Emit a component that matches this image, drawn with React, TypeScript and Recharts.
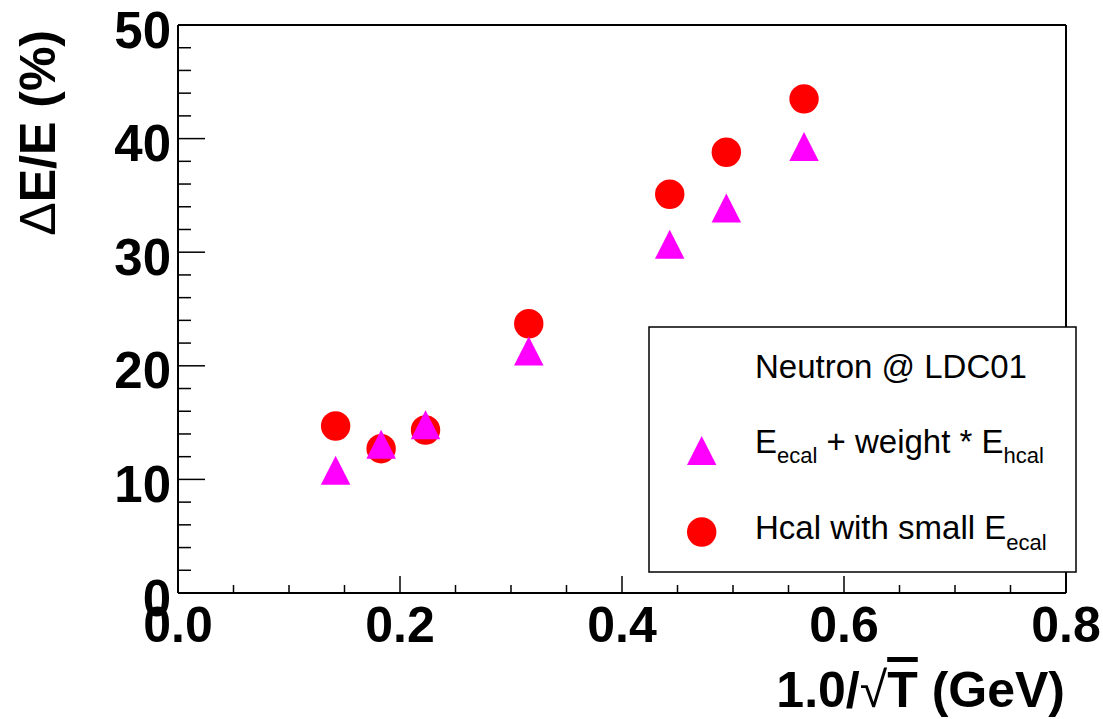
import React from 'react';
import { ScatterChart, Scatter, XAxis, YAxis, ReferenceLine, Legend } from 'recharts';

// 1/sqrt(E) values (x) and energy resolution in % (y)
const invSqrtE = [0.142, 0.183, 0.223, 0.316, 0.443, 0.494, 0.564];
const hcalSmallEcal = [14.7, 12.7, 14.35, 23.7, 35.1, 38.8, 43.5];
const ecalWeightHcal = [10.8, 13.1, 14.8, 21.3, 30.7, 33.9, 39.3];

const xTicks = [0, 0.05, 0.1, 0.15, 0.2, 0.25, 0.3, 0.35, 0.4, 0.45, 0.5, 0.55, 0.6, 0.65, 0.7, 0.75, 0.8];
const yTicks = [0, 2, 4, 6, 8, 10, 12, 14, 16, 18, 20, 22, 24, 26, 28, 30, 32, 34, 36, 38, 40, 42, 44, 46, 48, 50];

const legendTitle = 'Neutron @ LDC01';

const FONT = '"Liberation Sans", Arial, Helvetica, sans-serif';
const RED = '#ff0000';
const MAGENTA = '#ff00ff';

const circleData = invSqrtE.map((x, i) => ({ x, y: hcalSmallEcal[i] }));
const triangleData = invSqrtE.map((x, i) => ({ x, y: ecalWeightHcal[i] }));

const YTick = (props: any) => {
  const { x, y, payload } = props;
  const v = payload.value;
  const major = v % 10 === 0;
  return (
    <g>
      <line x1={x} y1={y} x2={x + (major ? 27 : 13)} y2={y} stroke="#000" strokeWidth={1.5} />
      {major && (
        <text x={x - 7} y={y + 22.5} textAnchor="end" fontFamily={FONT} fontWeight="bold" fontSize={51} fill="#000">
          {v}
        </text>
      )}
    </g>
  );
};

const XTick = (props: any) => {
  const { x, y, payload } = props;
  const v = payload.value;
  const major = Math.abs(v * 5 - Math.round(v * 5)) < 1e-6;
  return (
    <g>
      <line x1={x} y1={y} x2={x} y2={y - (major ? 17 : 8)} stroke="#000" strokeWidth={1.5} />
      {major && (
        <text x={x} y={y + 49} textAnchor="middle" fontFamily={FONT} fontWeight="bold" fontSize={50} fill="#000">
          {v.toFixed(1)}
        </text>
      )}
    </g>
  );
};

const XLabel = (props: any) => {
  const vb = props.viewBox || { x: 178, y: 593, width: 888, height: 126 };
  const tx = vb.x + vb.width - 1;
  const ty = vb.y + 114;
  return (
    <text x={tx} y={ty} textAnchor="end" fontFamily={FONT} fontWeight="bold" fontSize={50} fill="#000">
      <tspan>1.0/</tspan>
      <tspan fontWeight="normal">√</tspan>
      <tspan textDecoration="overline">T</tspan>
      <tspan> (GeV)</tspan>
    </text>
  );
};

const YLabel = (props: any) => {
  const vb = props.viewBox || { x: 0, y: 25, width: 178, height: 568 };
  const tx = vb.x + 55;
  const ty = vb.y + 5;
  return (
    <text
      x={tx}
      y={ty}
      transform={`rotate(-90, ${tx}, ${ty})`}
      textAnchor="end"
      fontFamily={FONT}
      fontWeight="bold"
      fontSize={50}
      fill="#000"
    >
      <tspan fontWeight="normal">Δ</tspan>
      <tspan>E/E (%)</tspan>
    </text>
  );
};

const CircleShape = (props: any) => <circle cx={props.cx} cy={props.cy} r={14.7} fill={RED} />;

const TriangleShape = (props: any) => {
  const { cx, cy } = props;
  const h = 29;
  const w = 29.5;
  const pts = `${cx},${cy - h / 2} ${cx + w / 2},${cy + h / 2} ${cx - w / 2},${cy + h / 2}`;
  return <polygon points={pts} fill={MAGENTA} />;
};

const LegendContent = () => (
  <svg width={430} height={248} style={{ display: 'block' }}>
    <rect x={1} y={1} width={427} height={245} fill="#fff" stroke="#000" strokeWidth={1.5} />
    <text x={107} y={52} fontFamily={FONT} fontSize={33} fill="#000">
      {legendTitle}
    </text>
    <polygon points="53.7,110 68.4,139 39,139" fill={MAGENTA} />
    <text x={107} y={127} fontFamily={FONT} fontSize={33} fill="#000">
      <tspan>E</tspan>
      <tspan dy={10} fontSize={22}>ecal</tspan>
      <tspan dy={-10}> + weight * E</tspan>
      <tspan dy={10} fontSize={22}>hcal</tspan>
    </text>
    <circle cx={53.7} cy={206} r={14.7} fill={RED} />
    <text x={107} y={213} fontFamily={FONT} fontSize={33} fill="#000">
      <tspan>Hcal with small E</tspan>
      <tspan dy={11} fontSize={22}>ecal</tspan>
    </text>
  </svg>
);

export default function App() {
  return (
    <div style={{ position: 'absolute', left: 0, top: 0, width: 1103, height: 719, background: '#fff' }}>
      <ScatterChart width={1103} height={719} margin={{ top: 25, right: 37, bottom: 0, left: 0 }}>
        <XAxis
          type="number"
          dataKey="x"
          domain={[0, 0.8]}
          ticks={xTicks}
          interval={0}
          tickSize={0}
          tickMargin={0}
          tickLine={false}
          tick={<XTick />}
          height={126}
          axisLine={{ stroke: '#000', strokeWidth: 2 }}
          label={<XLabel />}
        />
        <YAxis
          type="number"
          dataKey="y"
          domain={[0, 50]}
          ticks={yTicks}
          interval={0}
          tickSize={0}
          tickMargin={0}
          tickLine={false}
          tick={<YTick />}
          width={178}
          axisLine={{ stroke: '#000', strokeWidth: 2 }}
          label={<YLabel />}
        />
        <ReferenceLine y={50} stroke="#000" strokeWidth={2} />
        <ReferenceLine x={0.8} stroke="#000" strokeWidth={2} />
        <Scatter name="Hcal with small Eecal" data={circleData} shape={<CircleShape />} isAnimationActive={false} />
        <Scatter name="Eecal + weight * Ehcal" data={triangleData} shape={<TriangleShape />} isAnimationActive={false} />
        <Legend
          layout="horizontal"
          align="center"
          verticalAlign="middle"
          content={<LegendContent />}
          wrapperStyle={{ position: 'absolute', left: 648, top: 326, width: 430, height: 248 }}
        />
      </ScatterChart>
    </div>
  );
}
